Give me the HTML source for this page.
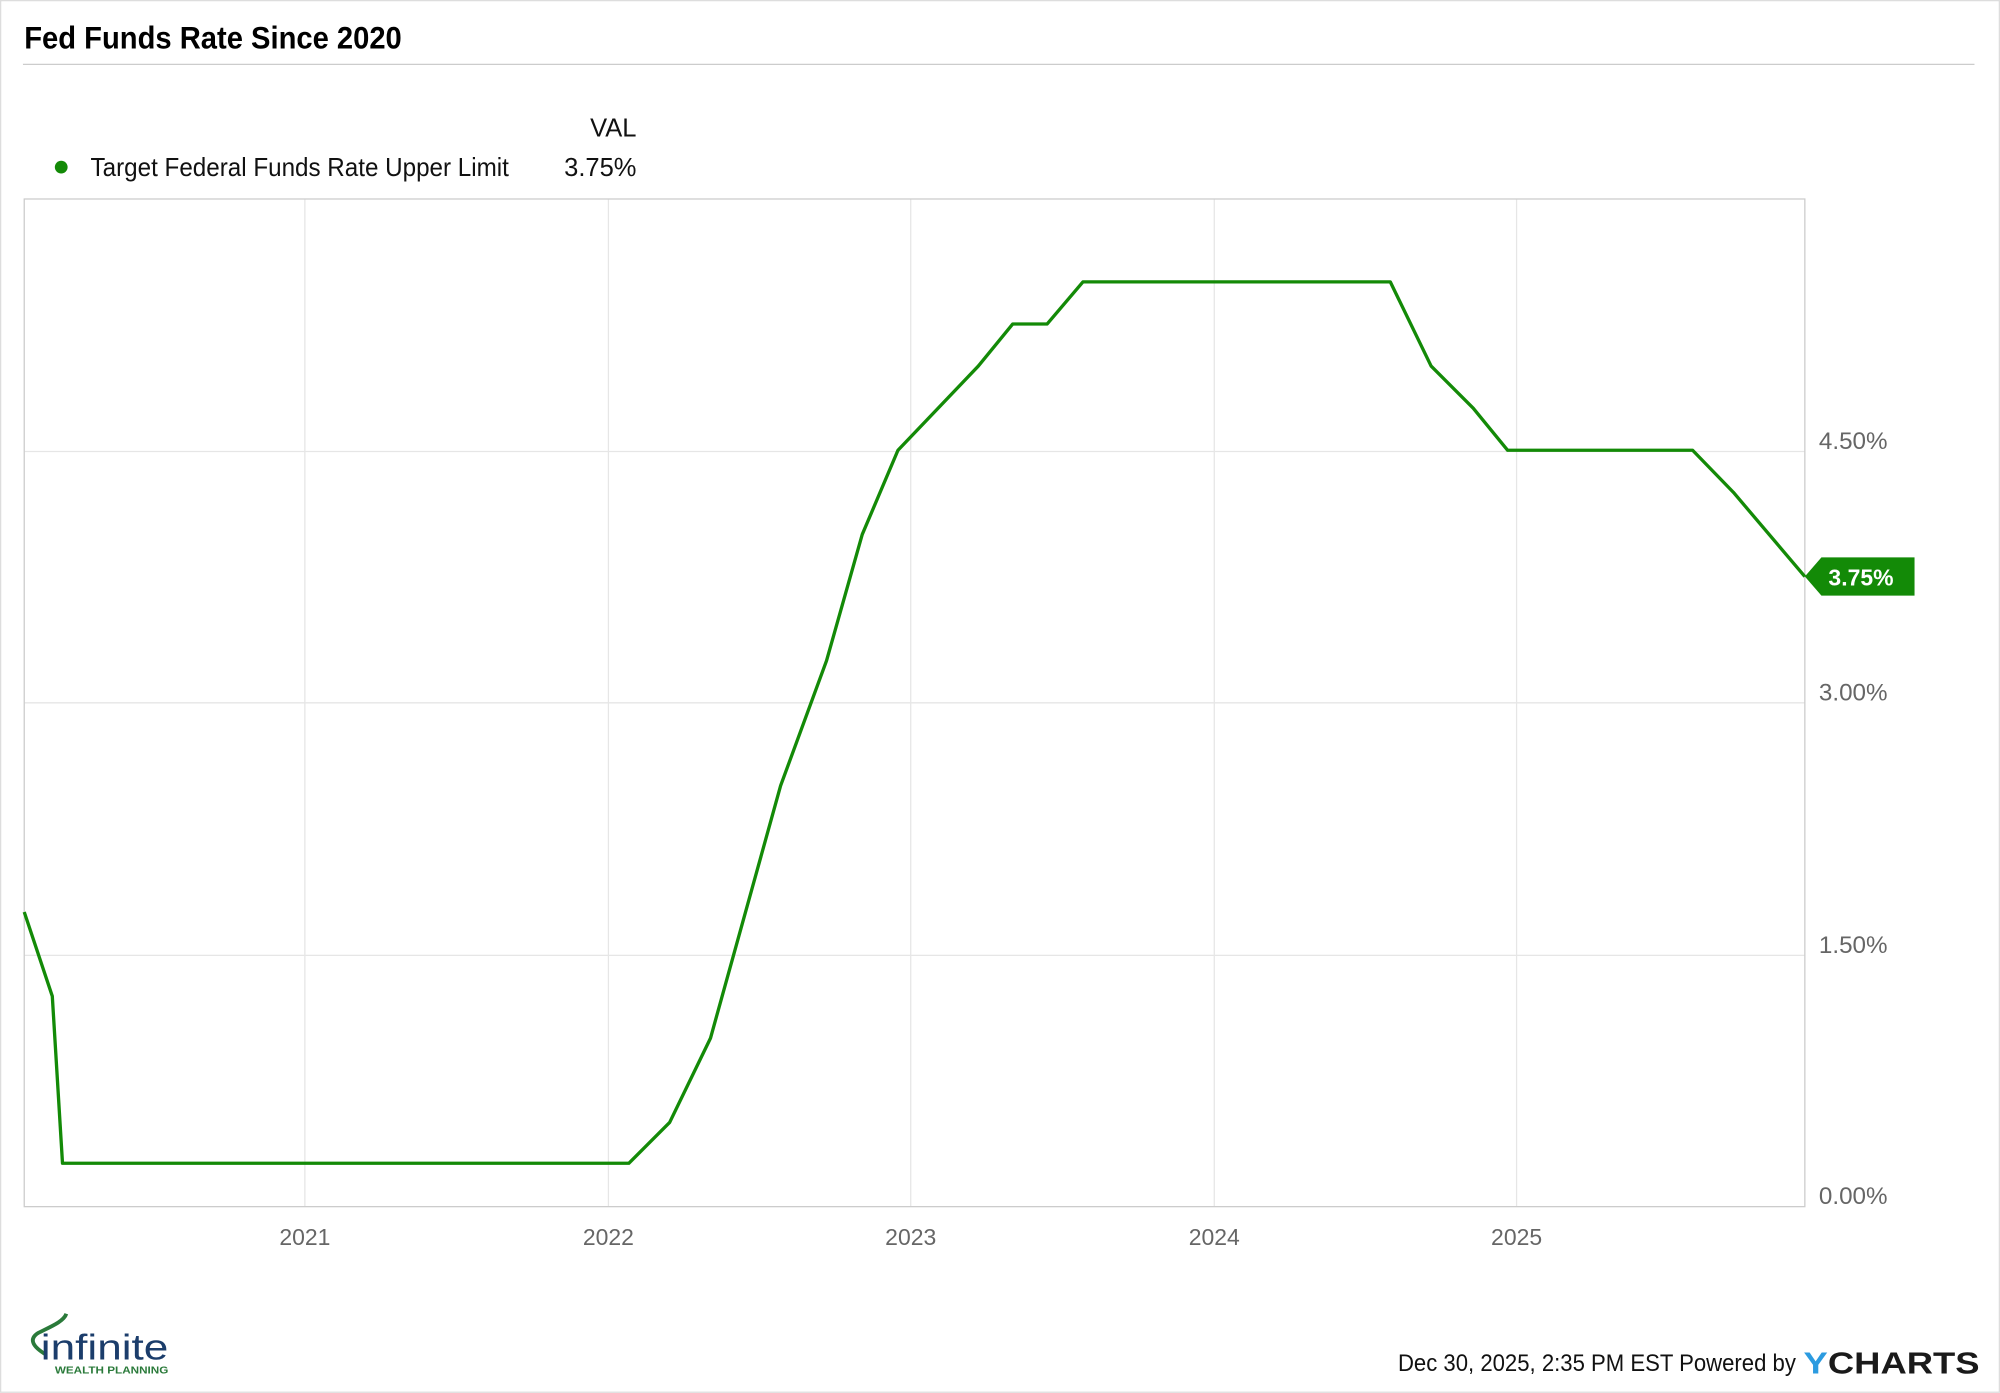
<!DOCTYPE html>
<html><head><meta charset="utf-8"><style>
html,body{margin:0;padding:0;background:#fff;}
svg{display:block;}
text{font-family:"Liberation Sans Narrow","Liberation Sans",sans-serif;}
</style></head><body>
<svg width="2000" height="1393" viewBox="0 0 1568 1092.1" xmlns="http://www.w3.org/2000/svg">
<rect x="0.5" y="0.5" width="1567" height="1091" fill="#fff" stroke="#ddd" stroke-width="1"/>
<text x="19" y="38" font-size="25" font-weight="bold" fill="#000" textLength="296" lengthAdjust="spacingAndGlyphs">Fed Funds Rate Since 2020</text>
<line x1="18" y1="50.5" x2="1548" y2="50.5" stroke="#ccc" stroke-width="1"/>
<text x="499" y="107" font-size="20" text-anchor="end" fill="#111">VAL</text>
<circle cx="48" cy="131" r="5" fill="#138a07"/>
<text x="71" y="138" font-size="20" fill="#111" textLength="328" lengthAdjust="spacingAndGlyphs">Target Federal Funds Rate Upper Limit</text>
<text x="499" y="138" font-size="20" text-anchor="end" fill="#111">3.75%</text>
<g stroke="#e6e6e6" stroke-width="1">
<line x1="239" y1="156" x2="239" y2="946"/><line x1="477" y1="156" x2="477" y2="946"/><line x1="714" y1="156" x2="714" y2="946"/><line x1="952" y1="156" x2="952" y2="946"/><line x1="1189" y1="156" x2="1189" y2="946"/>
<line x1="19" y1="354" x2="1415" y2="354"/><line x1="19" y1="551" x2="1415" y2="551"/><line x1="19" y1="749" x2="1415" y2="749"/>
</g>
<rect x="19" y="156" width="1396" height="790" fill="none" stroke="#ccc" stroke-width="1"/>
<polyline fill="none" stroke="#138a07" stroke-width="2.6" stroke-linejoin="round" points="19,715 41,781 49,912 493,912 525,880 557,814 612,616 648,518 676,419 704,353 767,287 794,254 821,254 849,221 1090,221 1122,287 1155,320 1182,353 1327,353 1359,386 1415,452"/>
<g font-size="19" fill="#666">
<text x="1426" y="352">4.50%</text><text x="1426" y="549">3.00%</text><text x="1426" y="747">1.50%</text><text x="1426" y="944">0.00%</text>
</g>
<g font-size="18" fill="#666" text-anchor="middle">
<text x="239" y="976">2021</text><text x="477" y="976">2022</text><text x="714" y="976">2023</text><text x="952" y="976">2024</text><text x="1189" y="976">2025</text>
</g>
<polygon points="1415,452 1428,437 1501,437 1501,467 1428,467" fill="#138a07"/>
<text x="1459" y="459" font-size="18" font-weight="bold" fill="#fff" text-anchor="middle">3.75%</text>
<text x="1096" y="1075" font-size="19" fill="#111" textLength="312" lengthAdjust="spacingAndGlyphs">Dec 30, 2025, 2:35 PM EST Powered by</text>
<text x="1414" y="1077" font-size="24" font-weight="bold" fill="#1a1a1a" textLength="138" lengthAdjust="spacingAndGlyphs"><tspan fill="#2c9be0">Y</tspan>CHARTS</text>
<path d="M36,1062 C26,1056 22,1050 30,1045 C40,1040 50,1036 52,1030" fill="none" stroke="#2a7a3a" stroke-width="3"/>
<text x="32" y="1066" font-size="28" fill="#1b3d6b" textLength="100" lengthAdjust="spacingAndGlyphs">infinite</text>
<text x="43" y="1077" font-size="8" font-weight="bold" fill="#2a7a3a" textLength="89" lengthAdjust="spacingAndGlyphs">WEALTH PLANNING</text>
</svg>
</body></html>
